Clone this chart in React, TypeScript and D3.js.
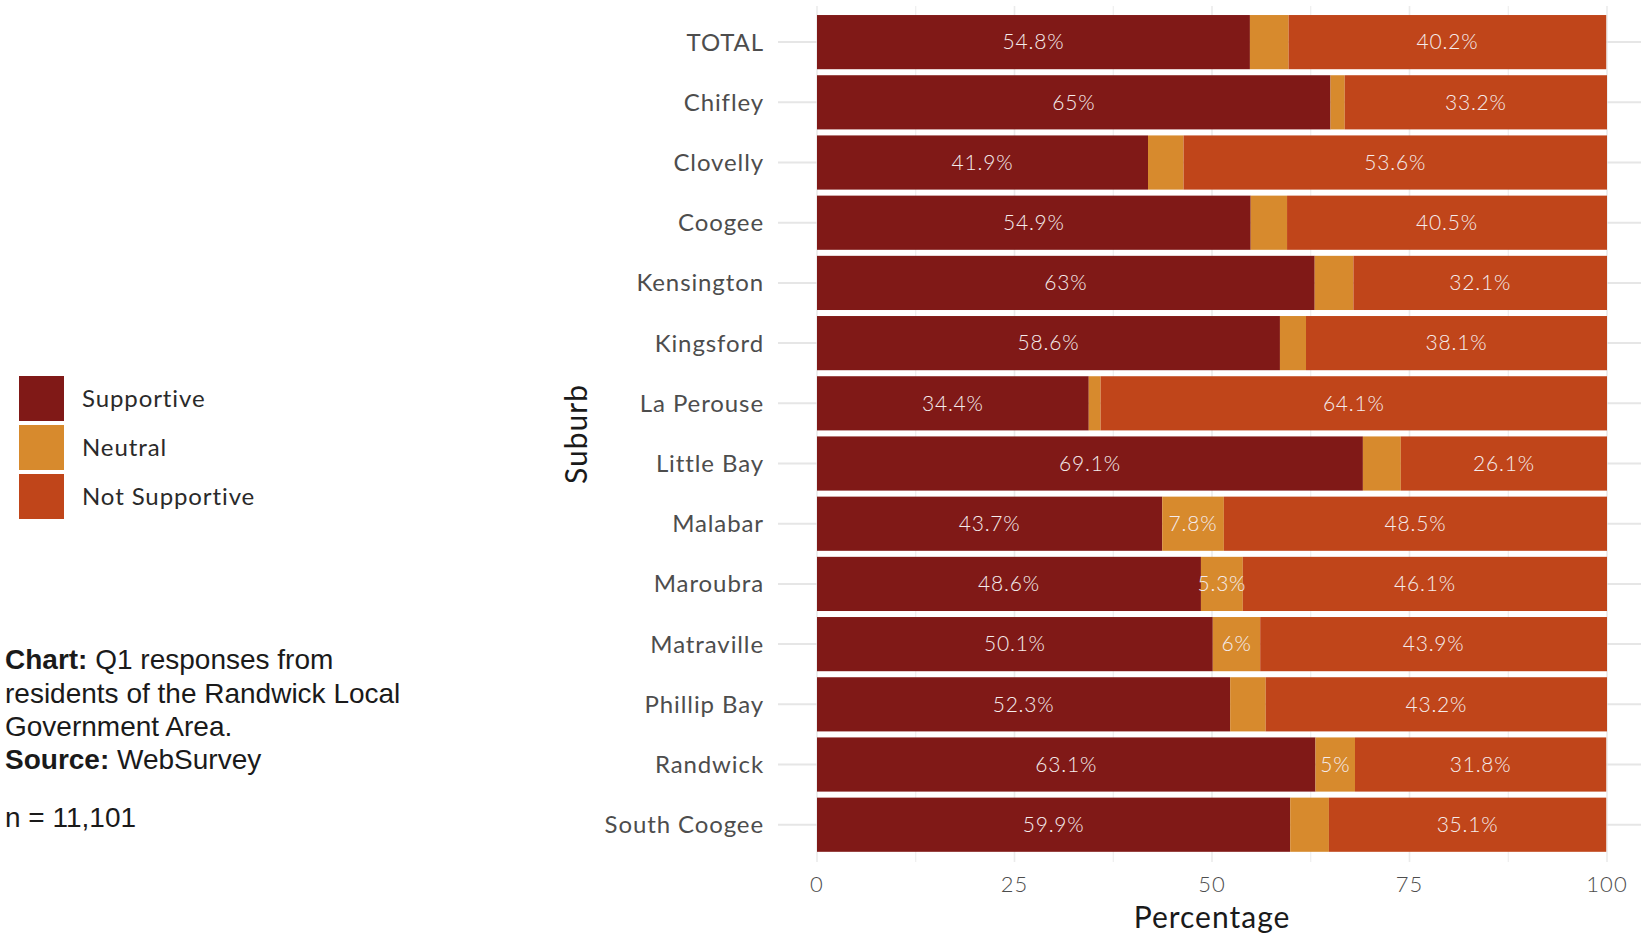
import React from "react";
import * as d3 from "d3";

const suburbs = ["TOTAL","Chifley","Clovelly","Coogee","Kensington","Kingsford","La Perouse","Little Bay","Malabar","Maroubra","Matraville","Phillip Bay","Randwick","South Coogee"];
const supportive = [54.8,65,41.9,54.9,63,58.6,34.4,69.1,43.7,48.6,50.1,52.3,63.1,59.9];
const neutral = [4.9,1.8,4.5,4.6,4.9,3.3,1.5,4.8,7.8,5.3,6,4.5,5,4.9];
const notSupportive = [40.2,33.2,53.6,40.5,32.1,38.1,64.1,26.1,48.5,46.1,43.9,43.2,31.8,35.1];
const responses = ["Supportive","Neutral","Not Supportive"];
const colors = ["#801917","#d78a2d","#c0451a"];
const xTicks = [0,25,50,75,100];
const xGrid = [0,12.5,25,37.5,50,62.5,75,87.5,100];

const W = 1641, H = 938;
const FONT = "Lato, 'Open Sans', sans-serif";
const CAP = "'Liberation Sans', Arial, Helvetica, sans-serif";

export default function App() {
  const x = d3.scaleLinear().domain([0, 100]).range([817, 1607]);
  const y = d3.scaleBand<string>().domain(suburbs).range([6 + 0.6 * 60.2 - 30.1, 6 + 0.6 * 60.2 - 30.1 + 14 * 60.2]).paddingInner(0.1).paddingOuter(0.05);
  const panelTop = 6;
  const series = [supportive, neutral, notSupportive];
  const fmt = (v: number) => `${+v.toFixed(1)}%`;

  const bars: React.ReactNode[] = [];
  const labels: React.ReactNode[] = [];
  suburbs.forEach((s, i) => {
    let acc = 0;
    series.forEach((arr, k) => {
      const v = arr[i];
      const x0 = x(acc), x1 = x(acc + v);
      const bandTop = y(s)!;
      const bh = y.bandwidth();
      bars.push(<rect key={`b${i}-${k}`} x={x0} y={bandTop} width={x1 - x0} height={bh} fill={colors[k]} />);
      if (v >= 5) {
        labels.push(<text key={`t${i}-${k}`} x={(x0 + x1) / 2} y={bandTop + bh / 2} dy="0.35em" textAnchor="middle" fontFamily={FONT} fontWeight={300} fontSize={21} letterSpacing={0.8} fill="#f5ecec">{fmt(v)}</text>);
      }
      acc += v;
    });
  });

  const cy = (s: string) => y(s)! + y.bandwidth() / 2;

  return (
    <div style={{ position: "absolute", left: 0, top: 0 }}>
      <svg width={W} height={H} style={{ display: "block", background: "#fff" }}>
        {xGrid.map((g) => (
          <line key={`gx${g}`} x1={x(g)} x2={x(g)} y1={panelTop} y2={862} stroke="#ebebeb" strokeWidth={g % 25 === 0 ? 1.6 : 1} />
        ))}
        {suburbs.map((s) => (
          <line key={`gy${s}`} x1={778} x2={W} y1={cy(s)} y2={cy(s)} stroke="#e6e6e6" strokeWidth={2} />
        ))}
        {bars}
        {labels}
        {suburbs.map((s) => (
          <text key={`yl${s}`} x={764} y={cy(s)} dy="0.35em" textAnchor="end" fontFamily={FONT} fontWeight={400} fontSize={24} letterSpacing={0.9} fill="#4d4d4d">{s}</text>
        ))}
        {xTicks.map((t) => (
          <text key={`xl${t}`} x={x(t)} y={884} dy="0.35em" textAnchor="middle" fontFamily={FONT} fontWeight={300} fontSize={22} letterSpacing={1} fill="#4d4d4d">{t}</text>
        ))}
        <text x={x(50)} y={917} dy="0.35em" textAnchor="middle" fontFamily={FONT} fontWeight={400} fontSize={30} letterSpacing={1} fill="#1a1a1a">Percentage</text>
        <text transform={`translate(576,${(6 + 862) / 2}) rotate(-90)`} dy="0.35em" textAnchor="middle" fontFamily={FONT} fontWeight={400} fontSize={30} letterSpacing={1} fill="#1a1a1a">Suburb</text>
        {responses.map((r, k) => (
          <g key={`lg${r}`} transform={`translate(19,${376 + k * 49})`}>
            <rect width={45} height={45} fill={colors[k]} />
            <text x={63} y={23} dy="0.35em" fontFamily={FONT} fontWeight={400} fontSize={24} letterSpacing={0.9} fill="#2a2a2a">{r}</text>
          </g>
        ))}
        <g fontFamily={CAP} fontSize={28} fill="#1a1a1a">
          <text x={5} y={669}><tspan fontWeight="bold">Chart:</tspan> Q1 responses from</text>
          <text x={5} y={703}>residents of the Randwick Local</text>
          <text x={5} y={736}>Government Area.</text>
          <text x={5} y={769}><tspan fontWeight="bold">Source:</tspan> WebSurvey</text>
          <text x={5} y={827}>n = 11,101</text>
        </g>
      </svg>
    </div>
  );
}
